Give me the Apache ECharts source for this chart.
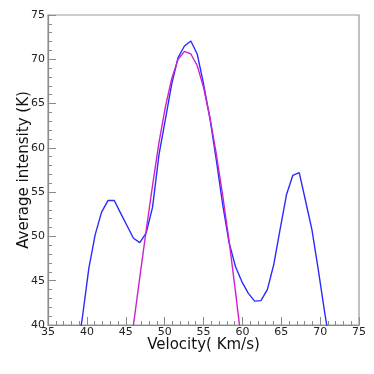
<!DOCTYPE html>
<html>
<head>
<meta charset="utf-8">
<script src="https://cdn.jsdelivr.net/npm/echarts@6/dist/echarts.min.js"></script>
<style>
  html, body { margin: 0; padding: 0; background: #fff; }
  #chart { width: 374px; height: 374px; }
</style>
</head>
<body>
<div id="chart"></div>
<script>
// velocity channels (km/s)
var velocity = [38.61, 39.43, 40.25, 41.07, 41.89, 42.71, 43.53, 44.35, 45.17, 45.99,
  46.81, 47.63, 48.45, 49.27, 50.09, 50.91, 51.73, 52.55, 53.37, 54.19,
  55.01, 55.83, 56.65, 57.47, 58.29, 59.11, 59.93, 60.75, 61.57, 62.39,
  63.21, 64.03, 64.85, 65.67, 66.49, 67.31, 68.13, 68.95, 69.77, 70.59, 71.41];
// average intensity (K), observed spectrum
var intensity = [36.0, 40.9, 46.4, 50.2, 52.75, 54.05, 54.05, 52.6, 51.2, 49.8,
  49.3, 50.4, 53.3, 59.2, 63.2, 67.2, 70.2, 71.5, 72.07, 70.6,
  67.2, 63.3, 58.6, 53.6, 49.3, 46.6, 44.9, 43.6, 42.7, 42.75,
  44.0, 46.8, 50.8, 54.7, 56.9, 57.2, 54.0, 50.75, 46.2, 41.4, 37.0];
// gaussian fit
var fitVelocity = [45.17, 45.99, 46.81, 47.63, 48.45, 49.27, 50.09, 50.91, 51.73, 52.55,
  53.37, 54.19, 55.01, 55.83, 56.65, 57.47, 58.29, 59.11, 59.93, 60.75];
var fitIntensity = [35.8, 40.0, 45.4, 50.7, 55.8, 60.6, 64.6, 67.8, 70.0, 70.9,
  70.6, 69.3, 66.8, 63.4, 59.3, 54.6, 49.5, 43.8, 37.8, 33.0];

function pairs(xs, ys) {
  return xs.map(function (x, i) { return [x, ys[i]]; });
}

var chart = echarts.init(document.getElementById('chart'), null, { renderer: 'canvas' });

var axisColor = '#8a8a8a';
var labelStyle = { color: '#222', fontSize: 11, fontFamily: 'DejaVu Sans' };

chart.setOption({
  animation: false,
  grid: {
    left: 48, right: 15, top: 15, bottom: 49,
    outerBoundsMode: 'none',
    containLabel: false,
    show: true, borderColor: '#999', borderWidth: 1.2, backgroundColor: 'transparent'
  },
  xAxis: {
    type: 'value',
    min: 35, max: 75, interval: 5,
    name: 'Velocity( Km/s)',
    nameLocation: 'middle',
    nameGap: 13,
    nameMoveOverlap: false,
    nameTextStyle: { color: '#111', fontSize: 15, fontFamily: 'DejaVu Sans' },
    axisLine: { show: true, lineStyle: { color: axisColor, width: 1.2 } },
    axisTick: { show: true, inside: true, length: 8, lineStyle: { color: axisColor } },
    minorTick: { show: true, splitNumber: 5, length: 4, lineStyle: { color: axisColor } },
    axisLabel: Object.assign({ margin: 2 }, labelStyle),
    splitLine: { show: false }
  },
  yAxis: {
    type: 'value',
    min: 40, max: 75, interval: 5,
    name: 'Average intensity (K)',
    nameLocation: 'middle',
    nameGap: 16,
    nameMoveOverlap: false,
    nameTextStyle: { color: '#111', fontSize: 15, fontFamily: 'DejaVu Sans' },
    axisLine: { show: true, lineStyle: { color: axisColor, width: 1.2 } },
    axisTick: { show: true, inside: true, length: 8, lineStyle: { color: axisColor } },
    minorTick: { show: true, splitNumber: 5, length: 4, lineStyle: { color: axisColor } },
    axisLabel: Object.assign({ margin: 3 }, labelStyle),
    splitLine: { show: false }
  },
  series: [
    {
      type: 'line',
      data: pairs(velocity, intensity),
      showSymbol: false,
      clip: true,
      lineStyle: { color: '#2b2bff', width: 1.4 }
    },
    {
      type: 'line',
      data: pairs(fitVelocity, fitIntensity),
      showSymbol: false,
      clip: true,
      lineStyle: { color: '#cc22cc', width: 1.4 }
    }
  ]
});
</script>
</body>
</html>
